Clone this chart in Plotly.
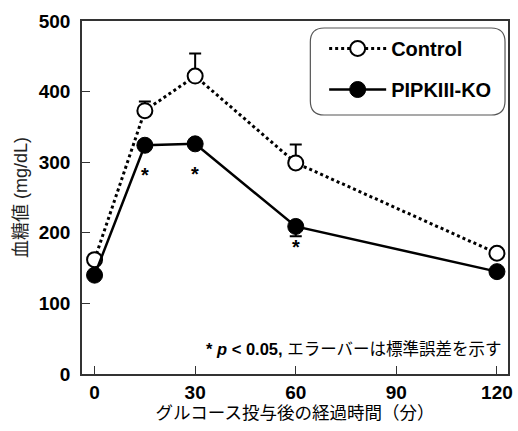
import plotly.graph_objects as go

time_min = [0, 15, 30, 60, 120]
control_mean = [162, 373, 422, 299, 171]
control_se = [0, 13, 32, 26, 0]
ko_mean = [140, 324, 326, 209, 145]
ko_se = [0, 0, 0, 14, 0]
sig_times = [15, 30, 60]
x_ticks = [0, 30, 60, 90, 120]
y_ticks = [0, 100, 200, 300, 400, 500]

FONT = "Liberation Sans, Arial, Noto Sans CJK JP"
FIG_W, FIG_H = 518, 431
L, R, T, B = 82, 513, 21, 374  # plot area in pixels
W, H = R - L, B - T

fig = go.Figure()
fig.add_trace(go.Scatter(
    x=time_min, y=control_mean, name="Control", mode="lines+markers", legendgroup="a",
    line=dict(color="black", width=3, dash="dot"),
    marker=dict(size=15, color="white", line=dict(color="black", width=2)),
    error_y=dict(type="data", symmetric=False, array=control_se,
                 arrayminus=[0]*len(control_se), color="black", thickness=2, width=6),
))
fig.add_trace(go.Scatter(
    x=time_min, y=ko_mean, name="PIPKIII-KO", mode="lines+markers", legendgroup="b",
    line=dict(color="black", width=2.5),
    marker=dict(size=16, color="black", line=dict(color="black", width=1)),
    error_y=dict(type="data", symmetric=False, array=[0]*len(ko_se),
                 arrayminus=ko_se, color="black", thickness=2, width=6),
))

for t in sig_times:
    i = time_min.index(t)
    base = ko_mean[i] - ko_se[i]
    fig.add_annotation(x=t, y=base, text="<b>*</b>", showarrow=False,
                       yshift=-30 if ko_se[i] == 0 else -11,
                       font=dict(size=20, color="black", family=FONT))

fig.add_annotation(xref="paper", yref="paper", x=0.99, y=0.07, xanchor="right",
                   yanchor="middle", showarrow=False,
                   text="<b>* <i>p</i> &lt; 0.05,</b> エラーバーは標準誤差を示す",
                   font=dict(size=16.5, color="black", family=FONT))

def P(x, y):
    return f"{(x - L) / W:.4f},{(B - y) / H:.4f}"
x0, x1, y0, y1 = 313, 510, 28, 115
r = 14
path = (f"M {P(x0+r,y0)} L {P(x1-r,y0)} Q {P(x1,y0)} {P(x1,y0+r)} "
        f"L {P(x1,y1-r)} Q {P(x1,y1)} {P(x1-r,y1)} L {P(x0+r,y1)} "
        f"Q {P(x0,y1)} {P(x0,y1-r)} L {P(x0,y0+r)} Q {P(x0,y0)} {P(x0+r,y0)} Z")
fig.add_shape(type="path", xref="paper", yref="paper", path=path,
              line=dict(color="#555555", width=1.2), fillcolor="white", layer="below")

fig.update_layout(
    width=FIG_W, height=FIG_H,
    margin=dict(l=L, r=FIG_W - R, t=T, b=FIG_H - B),
    paper_bgcolor="white", plot_bgcolor="rgba(0,0,0,0)",
    font=dict(family=FONT, color="black"),
    showlegend=True,
    legend=dict(x=(327 - L) / W, y=(B - 29) / H, xanchor="left", yanchor="top",
                bgcolor="rgba(0,0,0,0)", borderwidth=0,
                font=dict(size=20, family=FONT, color="black", weight="bold"),
                itemwidth=57, tracegroupgap=12),
)
fig.update_xaxes(range=[-3.75, 123.3], tickvals=x_ticks, ticks="inside", ticklen=8,
                 tickwidth=1.2, tickcolor="#333", showline=True, linecolor="#333",
                 linewidth=1.5, mirror=True, showgrid=False, zeroline=False,
                 tickfont=dict(size=19, family=FONT, weight="bold"),
                 title=dict(text="グルコース投与後の経過時間（分）", font=dict(size=17.5), standoff=2))
fig.update_yaxes(range=[0, 500], tickvals=y_ticks, ticks="inside", ticklen=8,
                 tickwidth=1.2, tickcolor="#333", showline=True, linecolor="#333",
                 linewidth=1.5, mirror=True, showgrid=False, zeroline=False,
                 tickfont=dict(size=19, family=FONT, weight="bold"),
                 ticklabelstandoff=6,
                 title=dict(text="血糖値 (mg/dL)", font=dict(size=18, color="#222"), standoff=6))

fig.write_html("out.html", config={"displayModeBar": False},
               post_script="document.body.style.margin='0';document.body.style.overflow='hidden';")
